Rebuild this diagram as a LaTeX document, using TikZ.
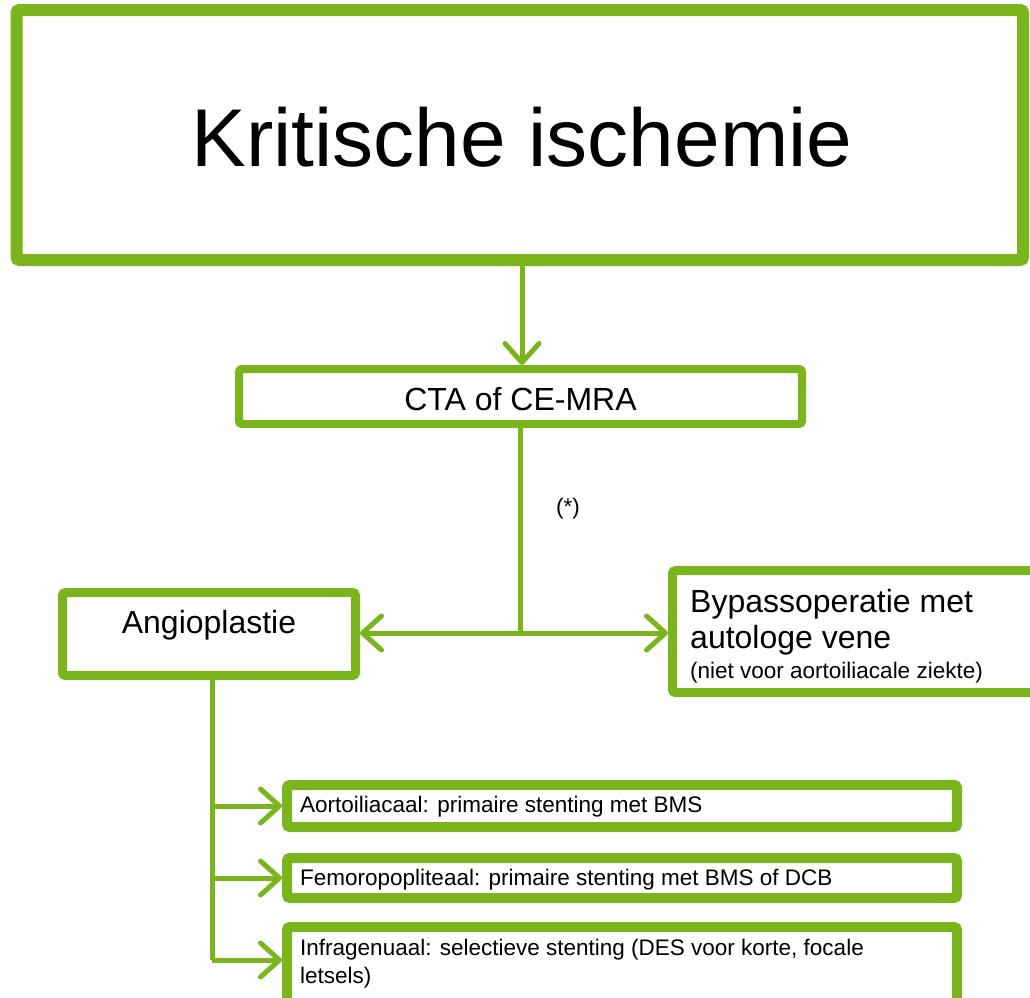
\documentclass[tikz,border=0pt]{standalone}
\usepackage{fontspec}
\setmainfont{Liberation Sans}
\usetikzlibrary{arrows.meta}
\definecolor{grn}{RGB}{122,181,29}
\begin{document}
\begin{tikzpicture}[x=1pt,y=-1pt,
  box/.style={draw=grn, rounded corners=3pt, fill=white, inner sep=0pt},
  conn/.style={draw=grn, line width=5pt},
  arr/.style={conn, -{Straight Barb[length=19pt,width=34pt,round]}},
  txt/.style={inner sep=0pt, anchor=base west, text=black},
  ctxt/.style={inner sep=0pt, anchor=base, text=black},
  big/.style={font=\fontsize{82}{98}\selectfont},
  mid/.style={font=\fontsize{32}{38}\selectfont},
  small/.style={font=\fontsize{22.5}{27}\selectfont}
]
\useasboundingbox (0,0) rectangle (1030,997);
\clip (0,0) rectangle (1030,997);
\fill[white] (0,0) rectangle (1030,997);

% boxes
\node[box, line width=12pt, minimum width=1006.5pt, minimum height=250pt] (top) at (519.75,135) {};
\node[box, line width=8pt, minimum width=563pt, minimum height=55pt] (cta) at (520.5,396.5) {};
\node[box, line width=9pt, minimum width=293pt, minimum height=83pt] (angio) at (209,634) {};
\node[box, line width=9pt, minimum width=367.5pt, minimum height=122pt] (bypass) at (856.25,631.5) {};
\node[box, line width=10pt, minimum width=670pt, minimum height=42pt] (b1) at (622,806) {};
\node[box, line width=10pt, minimum width=670pt, minimum height=40pt] (b2) at (622,878) {};
\node[box, line width=10pt, minimum width=670pt, minimum height=83pt] (b3) at (622,968.5) {};

% texts
\node[ctxt, big] (ttop) at (522,166) {Kritische ischemie};
\node[ctxt, mid] (tcta) at (520.5,410) {CTA of CE-MRA};
\node[ctxt, mid] (tangio) at (209,633) {Angioplastie};
\node[txt, mid] (tbp1) at (690,612) {Bypassoperatie met};
\node[txt, mid] (tbp2) at (690,648) {autologe vene};
\node[txt, small] (tbp3) at (690,678) {(niet voor aortoiliacale ziekte)};
\node[ctxt, small] (star) at (568,514) {(*)};
\node[txt, small] (tb1) at (300,812) {Aortoiliacaal: primaire stenting met BMS};
\node[txt, small] (tb2) at (300,885) {Femoropopliteaal: primaire stenting met BMS of DCB};
\node[txt, small] (tb3a) at (300,955) {Infragenuaal: selectieve stenting (DES voor korte, focale};
\node[txt, small] (tb3b) at (300,983) {letsels)};

% connectors
\draw[arr] (top.south -| 522,0) -- (cta.north -| 522,0);
\coordinate (j) at (520.5,633);
\draw[conn] (cta.south -| j) -- (j);
\draw[arr] (j) -- (angio.east |- j);
\draw[arr] (j) -- (bypass.west |- j);
\coordinate (s) at (212,960);
\draw[conn] (angio.south -| s) -- (s);
\draw[arr] (s |- b1.west) -- (b1.west);
\draw[arr] (s |- b2.west) -- (b2.west);
\draw[arr] (s) -- (s -| b3.west);
\end{tikzpicture}
\end{document}
